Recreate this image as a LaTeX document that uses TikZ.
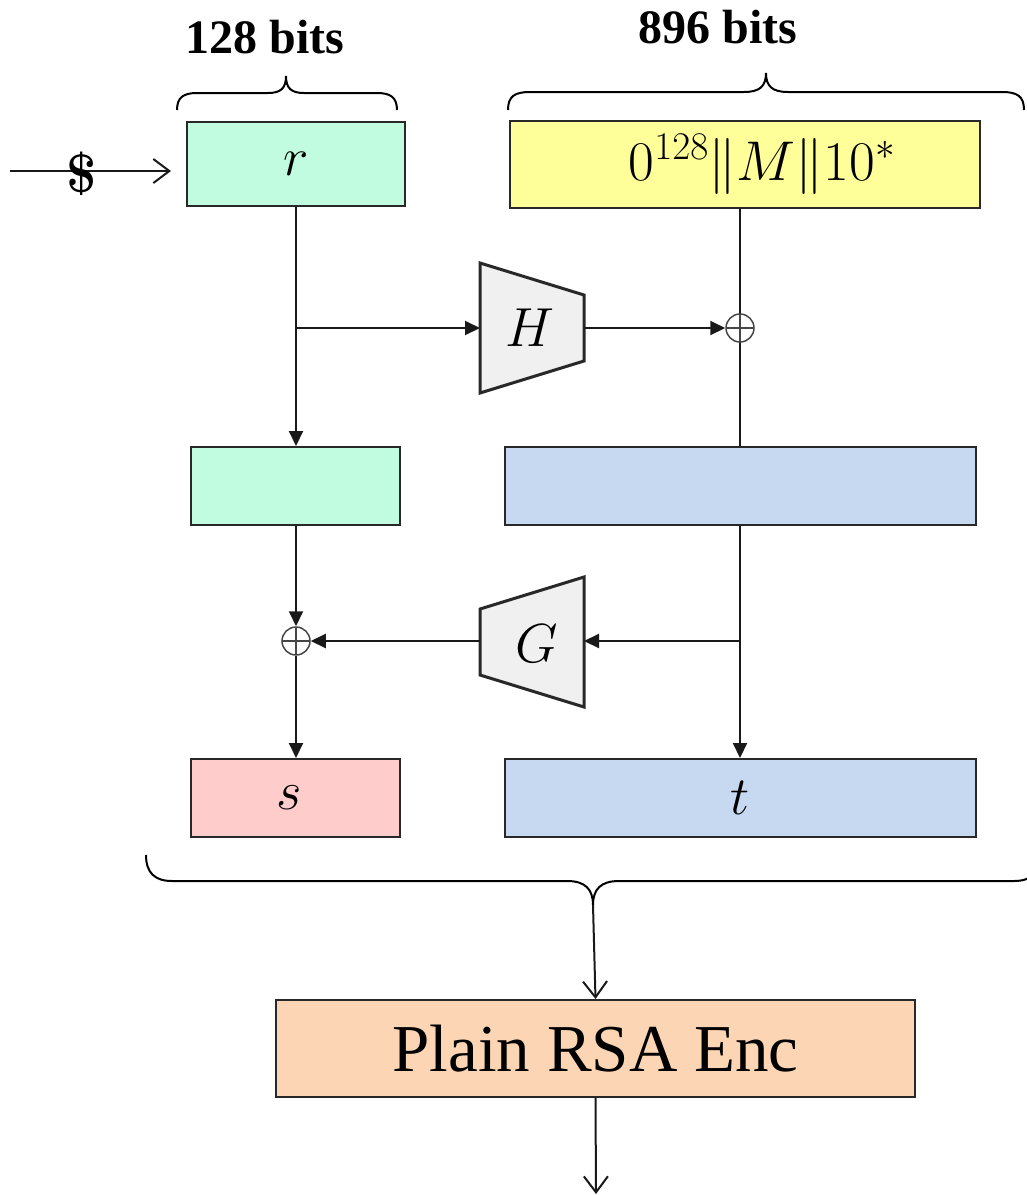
\RequirePackage{fix-cm}
\documentclass[tikz,border=0pt]{standalone}
\usepackage[no-math]{fontspec}
\newfontfamily\rsafont{Liberation Serif}
\usetikzlibrary{arrows.meta}
\definecolor{mint}{RGB}{194,252,224}
\definecolor{yel}{RGB}{255,255,153}
\definecolor{lblue}{RGB}{198,217,240}
\definecolor{lpink}{RGB}{255,204,204}
\definecolor{peach}{RGB}{252,213,180}
\definecolor{trapfill}{RGB}{240,240,240}
\definecolor{boxline}{RGB}{40,40,40}
\definecolor{xorc}{RGB}{70,70,70}
\begin{document}
\begin{tikzpicture}[x=1pt,y=-1pt,
  box/.style={draw=boxline, line width=2pt, inner sep=0pt, font=\fontsize{54}{60}\selectfont},
  conn/.style={draw=black!90, line width=2pt},
  tip/.style={-{Triangle[length=15pt,width=14pt]}},
  opentip/.style={-{Straight Barb[length=16pt,width=24pt]}},
  trap/.style={draw=boxline, fill=trapfill, line width=3pt, line join=miter},
  lbl/.style={font=\fontsize{55}{60}\selectfont, inner sep=0pt},
  brace/.style={draw=black, line width=2pt},
  bits/.style={font=\rsafont\bfseries\fontsize{48}{50}\selectfont, anchor=base, inner sep=0pt},
  xor/.style={circle, draw=xorc, line width=1.5pt, minimum size=28pt, inner sep=0pt,
    path picture={\draw[xorc, line width=1.5pt]
      (path picture bounding box.north) -- (path picture bounding box.south)
      (path picture bounding box.west) -- (path picture bounding box.east);}}
]
\useasboundingbox (0,0) rectangle (1027,1195);
\clip (0,0) rectangle (1027,1195);

% boxes
\node[box, fill=mint, minimum width=218pt, minimum height=84pt] (r) at (296,164) {$r$};
\node[box, fill=yel, minimum width=470pt, minimum height=87pt, font=\fontsize{56}{60}\selectfont] (m) at (745,164.5) {\hspace*{34pt}$0^{128}\|M\|10^*$};
\node[box, fill=mint, minimum width=209pt, minimum height=78pt] (g1) at (295.5,486) {};
\node[box, fill=lblue, minimum width=471pt, minimum height=78pt] (b1) at (740.5,486) {};
\node[box, fill=lpink, minimum width=209pt, minimum height=78pt] (s) at (295.5,798) {};
\node[lbl] (slbl) at (289,798) {$s$};
\node[box, fill=lblue, minimum width=471pt, minimum height=78pt] (t) at (740.5,798) {$t$};
\node[box, fill=peach, minimum width=639pt, minimum height=97pt, font=\rsafont\fontsize{67}{70}\selectfont] (rsa) at (595.5,1048.5) {Plain RSA Enc};

% trapezoids
\draw[trap] (480,263) -- (584,295) -- (584,361) -- (480,393) -- cycle;
\node[lbl] (H) at (530,328) {$H$};
\coordinate (Hin) at (480,328);
\coordinate (Hout) at (584,328);
\draw[trap] (480,609) -- (584,577) -- (584,707) -- (480,675) -- cycle;
\node[lbl] (G) at (537,644) {$G$};
\coordinate (Gin) at (584,641);
\coordinate (Gout) at (480,641);

% xors
\coordinate (x1c) at (740,328);
\coordinate (x2c) at (296,641);

% connectors
\coordinate (br) at (296,328);
\draw[conn, tip] (r.south) -- (r.south |- g1.north);
\draw[conn, tip] (br) -- (Hin);
\draw[conn] (m.south -| x1c) -- (b1.north -| x1c);
\node[xor] (x1) at (x1c) {};
\draw[conn, tip] (Hout) -- (x1.west);
\node[xor] (x2) at (x2c) {};
\draw[conn, tip] (g1.south -| x2) -- (x2.north);
\draw[conn, tip] (x2.south) -- (x2 |- s.north);
\draw[conn, tip] (b1.south -| x1c) -- (t.north -| x1c);
\coordinate (gb) at (740,641);
\draw[conn, tip] (gb) -- (Gin);
\draw[conn, tip] (Gout) -- (x2.east);

% random source
\coordinate (src) at (10,171);
\draw[conn, opentip, shorten >=15pt] (src) -- (r.west |- src);
\node[font=\bfseries\fontsize{54}{56}\selectfont, inner sep=0pt] (dollar) at (82,174) {\$};

% braces
\draw[brace] (177,110) .. controls (177,97) and (184,93) .. (197,93) -- (268,93)
  .. controls (281,93) and (286,88) .. (286,76)
  .. controls (286,88) and (291,93) .. (304,93) -- (377,93)
  .. controls (390,93) and (397,97) .. (397,110);
\node[bits] (l128) at (265,53) {128 bits};

\draw[brace] (508,110) .. controls (508,96) and (515,92) .. (530,92) -- (744,92)
  .. controls (760,92) and (766,86) .. (766,73)
  .. controls (766,86) and (772,92) .. (788,92) -- (1002,92)
  .. controls (1017,92) and (1024,96) .. (1024,110);
\node[bits] (l896) at (718,43) {896 bits};

\draw[brace] (146,855) .. controls (146,873) and (155,881) .. (172,881) -- (567,881)
  .. controls (585,881) and (593,889) .. (593,905)
  .. controls (593,889) and (601,881) .. (619,881) -- (1014,881)
  .. controls (1031,881) and (1040,873) .. (1040,855);
\coordinate (btip) at (593,905);
\draw[conn, opentip] (btip) -- (rsa.north);
\coordinate (out) at (596,1194);
\draw[conn, opentip] (rsa.south) -- (out);
\end{tikzpicture}
\end{document}
